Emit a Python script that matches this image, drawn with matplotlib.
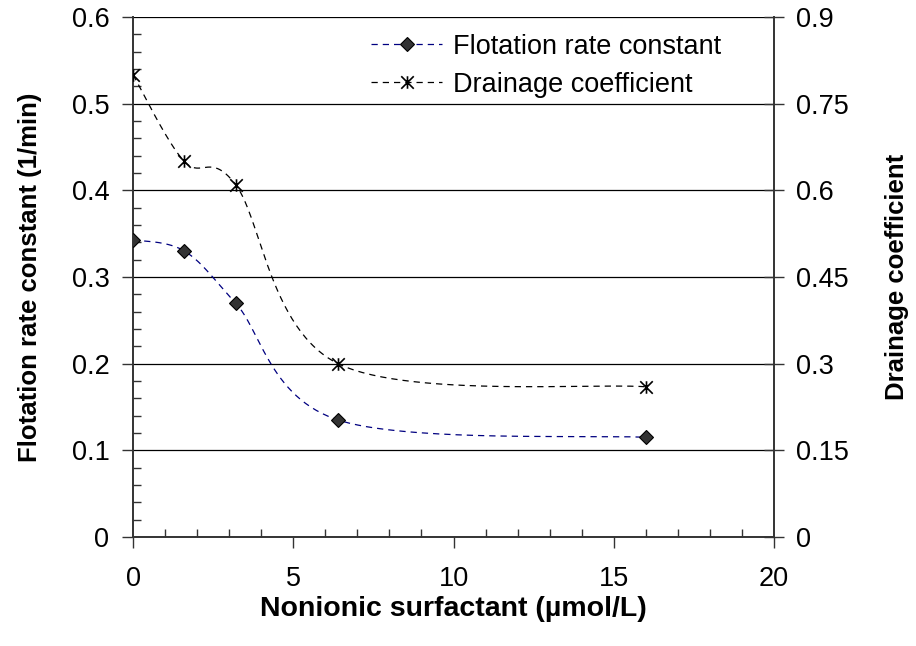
import numpy as np
import matplotlib
matplotlib.use("Agg")
import matplotlib.pyplot as plt
from matplotlib.path import Path
from matplotlib.ticker import MultipleLocator
from matplotlib.lines import Line2D

plt.rcParams['font.family'] = ['Liberation Sans', 'DejaVu Sans']

# Data
surfactant = [0.0, 1.6, 3.2, 6.4, 16.0]
flotation_rate = [0.343, 0.330, 0.270, 0.135, 0.115]
drainage_coef = [0.80, 0.65, 0.61, 0.30, 0.26]

x_ticks = [0, 5, 10, 15, 20]
x_ticklabels = ['0', '5', '10', '15', '20']
left_ticks = [0, 0.1, 0.2, 0.3, 0.4, 0.5, 0.6]
left_ticklabels = ['0', '0.1', '0.2', '0.3', '0.4', '0.5', '0.6']
right_ticks = [0, 0.15, 0.3, 0.45, 0.6, 0.75, 0.9]
right_ticklabels = ['0', '0.15', '0.3', '0.45', '0.6', '0.75', '0.9']


def excel_smooth(x, y, n=60):
    """Bezier smoothing similar to a spreadsheet 'smoothed line'."""
    P = np.column_stack([x, y]).astype(float)
    m = len(P)
    out = []
    for i in range(m - 1):
        p0 = P[i - 1] if i > 0 else P[i]
        p1 = P[i]
        p2 = P[i + 1]
        p3 = P[i + 2] if i + 2 < m else P[i + 1]
        c1 = p1 + (p2 - p0) / 6.0
        c2 = p2 - (p3 - p1) / 6.0
        t = np.linspace(0, 1, n)[:, None]
        seg = ((1 - t) ** 3) * p1 + 3 * ((1 - t) ** 2) * t * c1 + 3 * (1 - t) * t ** 2 * c2 + t ** 3 * p2
        if i > 0:
            seg = seg[1:]
        out.append(seg)
    out = np.vstack(out)
    return out[:, 0], out[:, 1]


# asterisk marker: X plus vertical line
star_path = Path(
    [(-0.5, -0.5), (0.5, 0.5), (-0.5, 0.5), (0.5, -0.5), (0, -0.5), (0, 0.5)],
    [Path.MOVETO, Path.LINETO, Path.MOVETO, Path.LINETO, Path.MOVETO, Path.LINETO],
)

fig = plt.figure(figsize=(9.16, 6.46), dpi=100)
ax = fig.add_axes([0.1452, 0.1687, 0.6998, 0.805])
ax2 = ax.twinx()

FS = 19.5
DASH = (0, (5, 4))

# Flotation rate (left axis)
sx, sy = excel_smooth(surfactant, flotation_rate)
ax.plot(sx, sy, linestyle=DASH, color='#000080', lw=0.9, zorder=3)
ax.plot(surfactant, flotation_rate, linestyle='none', marker='D', ms=7,
        mfc='#333333', mec='black', mew=0.8, zorder=4)

# Drainage coefficient (right axis)
dx, dy = excel_smooth(surfactant, drainage_coef)
ax2.plot(dx, dy, linestyle=DASH, color='black', lw=0.9, zorder=3)
ax2.plot(surfactant, drainage_coef, linestyle='none', marker=star_path, ms=9,
         mfc='none', mec='black', mew=1.2, zorder=4)

ax.set_xlim(0, 20)
ax.set_ylim(0, 0.6)
ax2.set_ylim(0, 0.9)

ax.xaxis.set_minor_locator(MultipleLocator(1))
ax.yaxis.set_minor_locator(MultipleLocator(0.02))

ax.set_xticks(x_ticks)
ax.set_xticklabels(x_ticklabels)
ax.set_yticks(left_ticks)
ax.set_yticklabels(left_ticklabels)
ax2.set_yticks(right_ticks)
ax2.set_yticklabels(right_ticklabels)

ax.grid(axis='y', which='major', color='black', lw=0.9)
ax.set_axisbelow(True)

for a in (ax, ax2):
    for s in a.spines.values():
        s.set_visible(False)
ax.spines['left'].set_visible(True)
ax.spines['bottom'].set_visible(True)
ax2.spines['right'].set_visible(True)
for s in (ax.spines['left'], ax.spines['bottom'], ax2.spines['right']):
    s.set_color('#333333')
    s.set_linewidth(1.4)

ax.tick_params(axis='y', which='major', direction='out', length=8, width=1,
               labelsize=FS, color='#333333', pad=9)
ax.tick_params(axis='x', which='major', direction='out', length=8, width=1,
               labelsize=FS, color='#333333', pad=13)
ax.tick_params(axis='both', which='minor', direction='in', length=6, width=1,
               color='#333333')
ax2.tick_params(axis='y', which='major', direction='inout', length=14, width=1,
                labelsize=FS, color='#333333', pad=9)
ax2.tick_params(axis='y', which='minor', length=0)

ax.set_xlabel('Nonionic surfactant (µmol/L)', fontsize=20.5, fontweight='bold', labelpad=3)
ax.set_ylabel('Flotation rate constant (1/min)', fontsize=18.5, fontweight='bold', labelpad=21)
ax2.set_ylabel('Drainage coefficient', fontsize=18.5, fontweight='bold', labelpad=26)

h1 = Line2D([], [], linestyle=DASH, color='#000080', lw=0.9, marker='D', ms=7,
            mfc='#333333', mec='black', mew=0.8)
h2 = Line2D([], [], linestyle=DASH, color='black', lw=0.9, marker=star_path, ms=9,
            mfc='none', mec='black', mew=1.2)
leg = ax.legend([h1, h2], ['Flotation rate constant', 'Drainage coefficient'],
                loc='upper right', bbox_to_anchor=(0.955, 1.015), frameon=False,
                fontsize=FS, handlelength=2.6, handletextpad=0.4, labelspacing=0.45)

fig.savefig('out.png', dpi=100)
